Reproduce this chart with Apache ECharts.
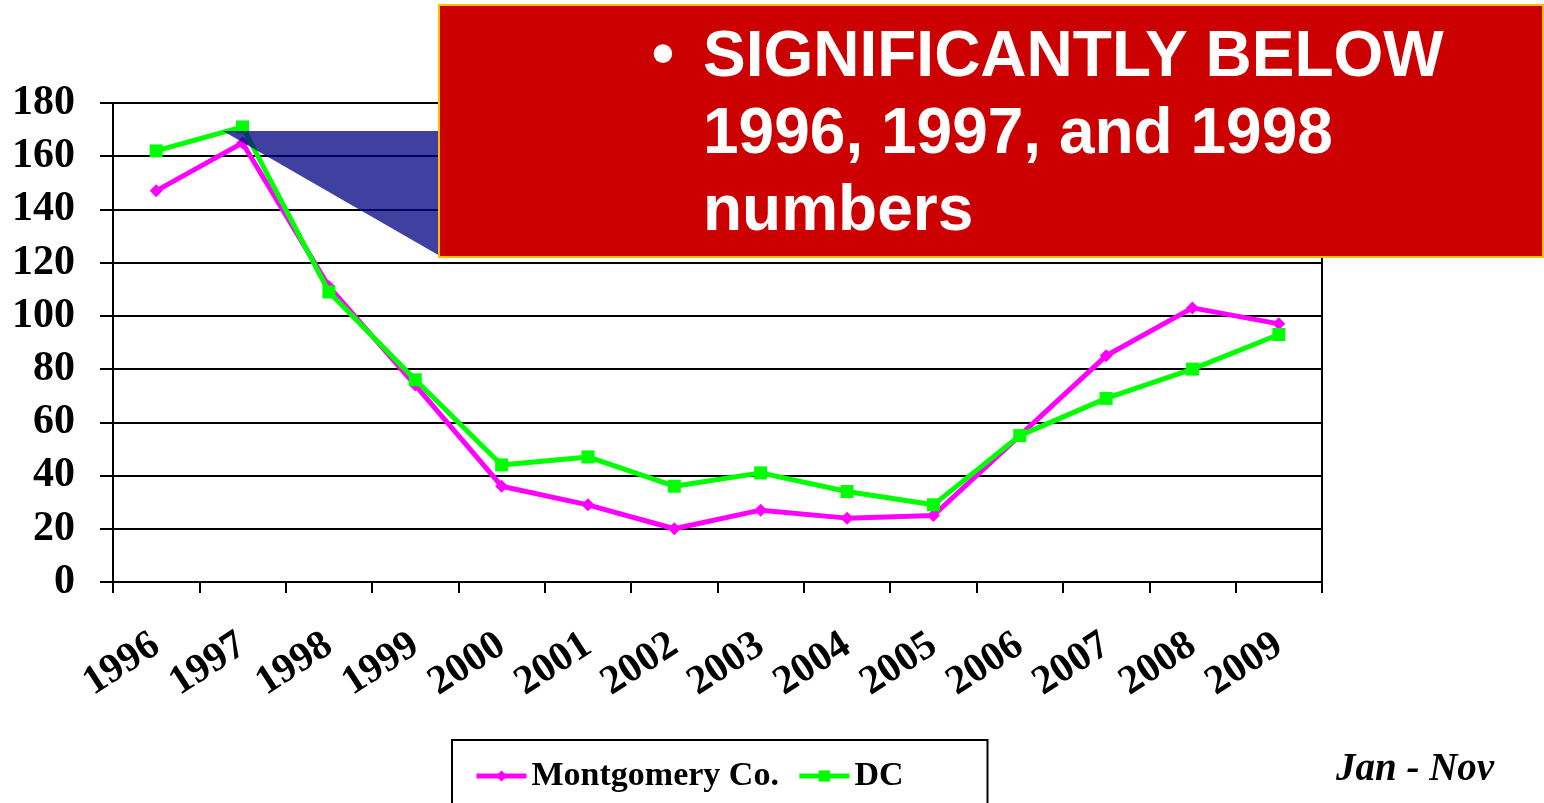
<!DOCTYPE html>
<html>
<head>
<meta charset="utf-8">
<script src="https://cdn.jsdelivr.net/npm/echarts@6/dist/echarts.min.js"></script>
<style>
  html, body { margin: 0; padding: 0; background: #fff; }
  #chart { width: 1544px; height: 803px; }
</style>
</head>
<body>
<div id="chart"></div>
<script>
// 年別件数（Montgomery Co. と DC の比較）
const years = ['1996', '1997', '1998', '1999', '2000', '2001', '2002', '2003', '2004', '2005', '2006', '2007', '2008', '2009'];
const montgomery = [147, 165, 111, 74, 36, 29, 20, 27, 24, 25, 55, 85, 103, 97];
const dc = [162, 171, 109, 76, 44, 47, 36, 41, 34, 29, 55, 69, 80, 93];
const yTicks = { min: 0, max: 180, interval: 20 };

const serif = '"Liberation Serif", "Times New Roman", serif';
const sans = '"Liberation Sans", Arial, sans-serif';

const chart = echarts.init(document.getElementById('chart'));

const option = {
  animation: false,
  backgroundColor: '#ffffff',
  grid: {
    left: 113, right: 222, top: 103, bottom: 221,
    show: true, borderColor: '#000', borderWidth: 2
  },
  xAxis: {
    type: 'category',
    data: years,
    boundaryGap: true,
    axisLine: { lineStyle: { color: '#000', width: 2 } },
    axisTick: { show: true, length: 11, lineStyle: { color: '#000', width: 2 } },
    axisLabel: {
      interval: 0, rotate: 33, margin: 60,
      color: '#000', fontFamily: serif, fontWeight: 'bold', fontSize: 41
    }
  },
  yAxis: {
    type: 'value',
    min: yTicks.min, max: yTicks.max, interval: yTicks.interval,
    axisLine: { show: true, lineStyle: { color: '#000', width: 2 } },
    axisTick: { show: true, length: 13, lineStyle: { color: '#000', width: 2 } },
    splitLine: { lineStyle: { color: '#000', width: 2 } },
    axisLabel: {
      margin: 38, color: '#000', fontFamily: serif, fontWeight: 'bold', fontSize: 42
    }
  },
  legend: {
    left: 452, top: 740,
    padding: [18, 84, 40, 22],
    itemGap: 18, itemWidth: 50, itemHeight: 14,
    borderColor: '#000', borderWidth: 2,
    lineStyle: { width: 5 },
    textStyle: { color: '#000', fontFamily: serif, fontWeight: 'bold', fontSize: 34, lineHeight: 36 },
    data: ['Montgomery Co.', 'DC']
  },
  series: [
    {
      name: 'Montgomery Co.',
      type: 'line',
      data: montgomery,
      symbol: 'diamond', symbolSize: 13,
      lineStyle: { color: '#ff00ff', width: 5 },
      itemStyle: { color: '#ff00ff' },
      z: 3
    },
    {
      name: 'DC',
      type: 'line',
      data: dc,
      symbol: 'rect', symbolSize: 13,
      lineStyle: { color: '#00ff00', width: 5 },
      itemStyle: { color: '#00ff00' },
      z: 4
    }
  ],
  graphic: [
    // 吹き出しの三角形
    {
      type: 'polygon', z: 100,
      shape: { points: [[223, 131], [440, 131], [440, 256]] },
      style: { fill: 'rgba(0, 0, 128, 0.75)' }
    },
    // 赤いボックス
    {
      type: 'rect', z: 101,
      shape: { x: 439, y: 5, width: 1104, height: 252 },
      style: { fill: '#cc0000', stroke: '#ffc000', lineWidth: 2 }
    },
    {
      type: 'text', z: 102,
      x: 663, y: 57,
      style: {
        text: '•', fill: '#fff', font: 'bold 64px ' + sans,
        align: 'center', verticalAlign: 'middle'
      }
    },
    {
      type: 'text', z: 102,
      x: 703, y: 20,
      style: {
        text: 'SIGNIFICANTLY BELOW\n1996, 1997, and 1998\nnumbers',
        fill: '#fff', font: 'bold 64px ' + sans, lineHeight: 77,
        align: 'left', verticalAlign: 'top'
      }
    },
    {
      type: 'text', z: 102,
      x: 1336, y: 770,
      style: {
        text: 'Jan - Nov', fill: '#000',
        font: 'italic bold 39px ' + serif,
        align: 'left', verticalAlign: 'middle'
      }
    }
  ]
};

chart.setOption(option);
</script>
</body>
</html>
